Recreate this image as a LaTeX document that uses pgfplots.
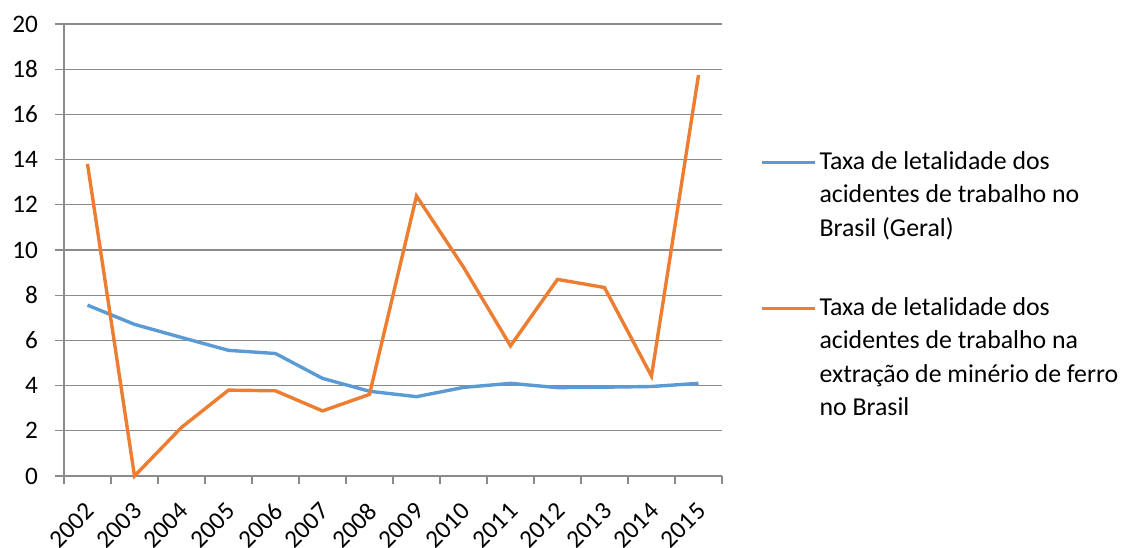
\documentclass[border=0pt]{standalone}
\usepackage{fontspec}
\setmainfont{Carlito}
\usepackage{pgfplots}
\pgfplotsset{compat=1.18}

\definecolor{serieblue}{HTML}{5B9BD5}
\definecolor{serieorange}{HTML}{ED7D31}
\definecolor{gridgray}{HTML}{8A8A8A}

% Taxa de letalidade por ano (2002 = 0, ..., 2015 = 13)
\pgfplotstableread{
x  geral  ferro
0  7.56   13.81
1  6.71   0.00
2  6.13   2.15
3  5.56   3.80
4  5.42   3.77
5  4.32   2.88
6  3.75   3.61
7  3.51   12.39
8  3.92   9.24
9  4.10   5.76
10 3.91   8.70
11 3.93   8.34
12 3.96   4.42
13 4.10   17.74
}\dados

\begin{document}
\begin{tikzpicture}
\useasboundingbox (-32pt,-35.5pt) rectangle (533.5pt,238pt);
\begin{axis}[
  scale only axis,
  width=329pt, height=226pt,
  xmin=-0.5, xmax=13.5,
  ymin=0, ymax=20,
  ytick={0,2,...,20},
  xtick={0,...,13},
  xticklabels={2002,2003,2004,2005,2006,2007,2008,2009,2010,2011,2012,2013,2014,2015},
  minor xtick={-0.5,0.5,...,13.5},
  axis x line*=bottom,
  axis y line*=left,
  axis line style={gridgray, line width=0.6pt},
  ymajorgrids,
  grid style={gridgray, line width=0.6pt},
  tick align=outside,
  major tick length=4.5pt,
  minor tick length=4pt,
  major x tick style={draw=none},
  tick style={gridgray, line width=0.6pt},
  minor x tick style={gridgray, line width=0.6pt},
  /pgf/number format/assume math mode=true,
  tick label style={font=\fontsize{12.6}{15}\selectfont, black},
  yticklabel style={anchor=east, xshift=-5pt},
  % shifts are taken in the rotated frame of the label
  xticklabel style={rotate=45, anchor=north east, inner sep=1pt, xshift=-5.67pt, yshift=-3.52pt},
  clip=false,
  legend style={
    draw=none, fill=none,
    at={(rel axis cs:1.058,0.730)}, anchor=north west,
    inner sep=0pt, outer sep=0pt,
    row sep=0pt, column sep=1.5pt,
    font=\fontsize{12.9}{16.7}\selectfont,
    nodes={inner sep=0pt, anchor=base west, text height=11.69pt, text depth=5.01pt},
  },
  legend image code/.code={\draw[#1] (0pt,3.5pt) -- (26.5pt,3.5pt);},
]
\addplot[serieblue, line width=1.7pt] table[x=x, y=geral] {\dados};
\addlegendentry{Taxa de letalidade dos}
\addlegendimage{empty legend}
\addlegendentry{acidentes de trabalho no}
\addlegendimage{empty legend}
\addlegendentry{Brasil (Geral)}
\addlegendimage{empty legend}
\addlegendentry[text height=17.79pt]{}
\addplot[serieorange, line width=1.7pt] table[x=x, y=ferro] {\dados};
\addlegendentry{Taxa de letalidade dos}
\addlegendimage{empty legend}
\addlegendentry{acidentes de trabalho na}
\addlegendimage{empty legend}
\addlegendentry{extração de minério de ferro}
\addlegendimage{empty legend}
\addlegendentry{no Brasil}
\end{axis}
\end{tikzpicture}
\end{document}
